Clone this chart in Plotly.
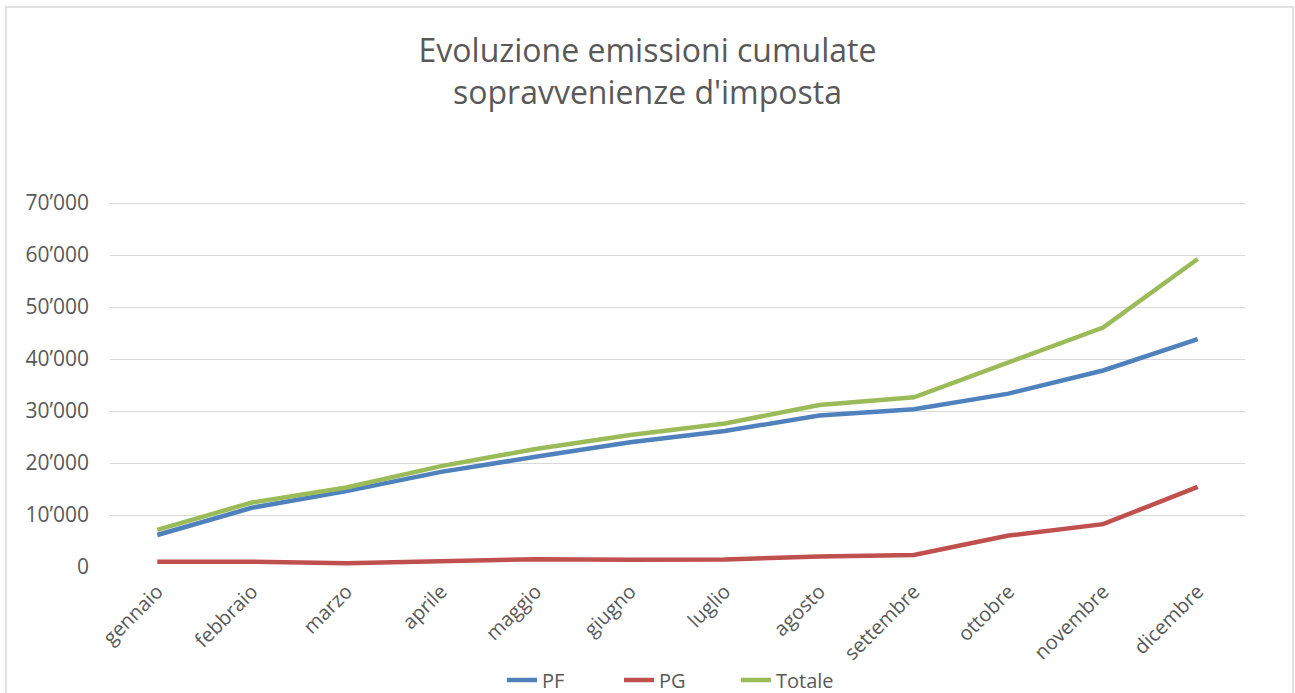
import plotly.graph_objects as go

mesi = ['gennaio', 'febbraio', 'marzo', 'aprile', 'maggio', 'giugno',
        'luglio', 'agosto', 'settembre', 'ottobre', 'novembre', 'dicembre']

pf = [6150, 11400, 14600, 18300, 21200, 24000, 26150, 29150, 30350, 33350, 37800, 43850]
pg = [1000, 1000, 700, 1100, 1500, 1400, 1450, 2000, 2300, 6050, 8250, 15400]
totale = [7150, 12400, 15300, 19400, 22700, 25400, 27600, 31150, 32650, 39400, 46050, 59250]

y_ticks = [0, 10000, 20000, 30000, 40000, 50000, 60000, 70000]
y_labels = ['0', '10’000', '20’000', '30’000', '40’000', '50’000', '60’000', '70’000']

FONT = 'Open Sans, Noto Sans, sans-serif'
GREY = '#595959'

fig = go.Figure()
for name, vals, col in [('PF', pf, '#4F81BD'), ('PG', pg, '#C0504D'), ('Totale', totale, '#9BBB59')]:
    fig.add_trace(go.Scatter(x=mesi, y=vals, mode='lines', name=name,
                             line=dict(color=col, width=4.5)))

fig.update_layout(
    width=1295, height=693,
    margin=dict(l=110, r=50, t=201, b=126),
    paper_bgcolor='white',
    plot_bgcolor='white',
    font=dict(family=FONT, color=GREY),
    title=dict(text='Evoluzione emissioni cumulate<br>sopravvenienze d\'imposta',
               x=0.5, xanchor='center', y=0.91, yanchor='top',
               font=dict(size=32, color=GREY)),
    showlegend=True,
    legend=dict(orientation='h', x=0.5, xanchor='center',
                yref='container', y=(693 - 680) / 693, yanchor='middle',
                entrywidth=72, font=dict(size=20, color=GREY),
                bgcolor='rgba(0,0,0,0)'),
)

fig.update_xaxes(range=[-0.5, 11.5], tickangle=-45, showgrid=False, showline=False,
                 automargin=False, ticks='', ticklabelstandoff=8,
                 tickfont=dict(size=20, color=GREY))
fig.update_yaxes(range=[0, 70400], tickvals=y_ticks, ticktext=y_labels,
                 gridcolor='#D9D9D9', gridwidth=1.3, zeroline=False, showline=False,
                 automargin=False, ticks='', ticklabelstandoff=20,
                 tickfont=dict(size=21, color=GREY))

# chart border
fig.add_shape(type='rect', xref='paper', yref='paper',
              x0=(6 - 110) / 1135, x1=(1293 - 110) / 1135,
              y0=(567 - 700) / 366, y1=(567 - 7) / 366,
              line=dict(color='#D9D9D9', width=1.5), layer='below')

fig.write_html("out.html", config={'displayModeBar': False},
               post_script="document.body.style.margin='0';")
